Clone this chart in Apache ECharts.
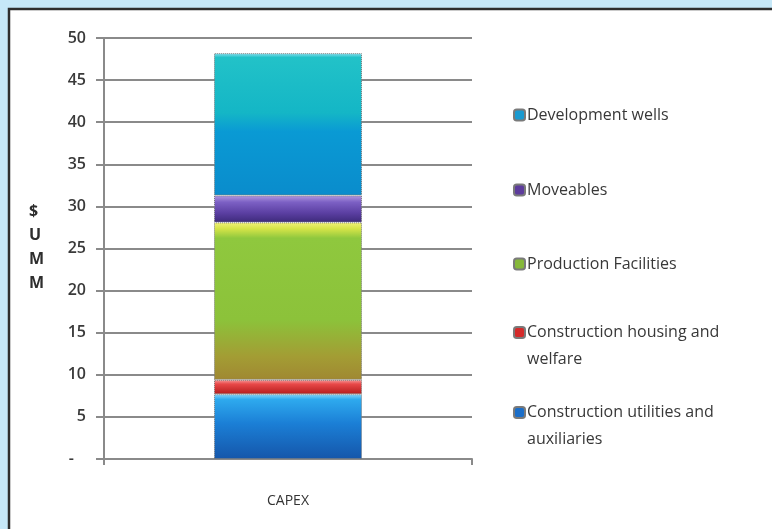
<!DOCTYPE html>
<html>
<head>
<meta charset="utf-8">
<script src="https://cdn.jsdelivr.net/npm/echarts@6/dist/echarts.min.js"></script>
<style>
  html, body { margin: 0; padding: 0; background: #c6e8f8; }
  #chart { width: 772px; height: 529px; }
</style>
</head>
<body>
<div id="chart"></div>
<script>
// CAPEX breakdown, stacked from the bottom up (US$ MM)
const categories = ['CAPEX'];
const seriesNames = [
  'Construction utilities and auxiliaries',
  'Construction housing and welfare',
  'Production Facilities',
  'Moveables',
  'Development wells'
];
const utilities = [7.7];
const housing = [1.7];
const production = [18.7];
const moveables = [3.2];
const wells = [16.9];
const yTicks = { min: 0, max: 50, interval: 5 };
const legendOrder = [
  'Development wells',
  'Moveables',
  'Production Facilities',
  'Construction housing and welfare',
  'Construction utilities and auxiliaries'
];
// wrapped entries start with a blank line so the centred swatch lines up with the first text line
const legendLabels = {
  'Development wells': 'Development wells',
  'Moveables': 'Moveables',
  'Production Facilities': 'Production Facilities',
  'Construction housing and welfare': ' \nConstruction housing and\nwelfare',
  'Construction utilities and auxiliaries': ' \nConstruction utilities and\nauxiliaries'
};

const FONT = '"Open Sans", "Noto Sans", sans-serif';

function vGrad(stops) {
  return new echarts.graphic.LinearGradient(0, 0, 0, 1,
    stops.map(s => ({ offset: s[0], color: s[1] })));
}

const fills = {
  'Construction utilities and auxiliaries': vGrad([[0, '#8ad6f8'], [0.08, '#2eaaee'], [0.45, '#1b7fd6'], [1, '#1556aa']]),
  'Construction housing and welfare': vGrad([[0, '#f59a9a'], [0.3, '#e84848'], [1, '#b41c1c']]),
  'Production Facilities': vGrad([[0, '#f2f27a'], [0.04, '#d6e448'], [0.1, '#8fc83e'], [0.62, '#8cc23a'], [0.85, '#a39d34'], [1, '#a08832']]),
  'Moveables': vGrad([[0, '#b29ae0'], [0.25, '#7c60c4'], [0.65, '#5b3fa2'], [1, '#3d2a7a']]),
  'Development wells': vGrad([[0, '#8fe0f0'], [0.03, '#22c2c8'], [0.42, '#14b6c6'], [0.55, '#0a9ad4'], [1, '#0a8ccc']])
};
const iconColors = {
  'Construction utilities and auxiliaries': '#1b6ec8',
  'Construction housing and welfare': '#d42a2a',
  'Production Facilities': '#86b83a',
  'Moveables': '#5d3c9c',
  'Development wells': '#1a9ad0'
};

const valuesByName = {
  'Construction utilities and auxiliaries': utilities,
  'Construction housing and welfare': housing,
  'Production Facilities': production,
  'Moveables': moveables,
  'Development wells': wells
};

const series = seriesNames.map(name => ({
  name: name,
  type: 'bar',
  stack: 'capex',
  barWidth: 148,
  data: valuesByName[name],
  itemStyle: {
    color: fills[name],
    borderColor: '#7a7a7a',
    borderType: 'dotted',
    borderWidth: 1
  },
  emphasis: { disabled: true }
}));

const LINE = 27;
const legendTops = [99, 174, 248, 287, 367];
const legends = legendOrder.map((name, i) => {
  const wrapped = legendLabels[name].indexOf('\n') >= 0;
  return {
    orient: 'vertical',
    left: 508,
    top: legendTops[i],
    data: [{ name: name, itemStyle: { color: iconColors[name] } }],
    icon: 'roundRect',
    itemWidth: 11,
    itemHeight: 11,
    itemGap: 0,
    selectedMode: false,
    formatter: n => legendLabels[n],
    textStyle: {
      fontFamily: FONT, fontSize: 16, color: '#383838',
      lineHeight: wrapped ? LINE : 22,
      padding: [0, 0, 0, -3]
    }
  };
});

const chart = echarts.init(document.getElementById('chart'), null, { renderer: 'canvas' });
chart.setOption({
  backgroundColor: '#c6e8f8',
  animation: false,
  graphic: [
    {
      type: 'rect',
      z: -10,
      shape: { x: 9, y: 9, width: 800, height: 600 },
      style: { fill: '#ffffff', stroke: '#2e2e2e', lineWidth: 2.5 }
    },
    {
      type: 'text',
      left: 29,
      top: 199,
      style: {
        text: '$\nU\nM\nM',
        fontFamily: FONT,
        fontSize: 16,
        fontWeight: 'bold',
        lineHeight: 24,
        fill: '#2e2e2e',
        align: 'center'
      }
    }
  ],
  grid: { left: 104, right: 300, top: 38, bottom: 70 },
  legend: legends,
  xAxis: {
    type: 'category',
    data: categories,
    axisLine: { lineStyle: { color: '#8a8a8a', width: 2 } },
    axisTick: { show: true, alignWithLabel: false, length: 6, lineStyle: { color: '#8a8a8a', width: 2 } },
    axisLabel: { margin: 35, fontFamily: FONT, fontSize: 14, color: '#333333' },
    splitLine: { show: false }
  },
  yAxis: {
    type: 'value',
    min: yTicks.min,
    max: yTicks.max,
    interval: yTicks.interval,
    axisLine: { show: true, lineStyle: { color: '#8a8a8a', width: 2 } },
    axisTick: { show: true, length: 8, lineStyle: { color: '#8a8a8a', width: 2 } },
    axisLabel: {
      margin: 18,
      fontFamily: FONT,
      fontSize: 16,
      fontWeight: 600,
      color: '#3a3a3a',
      formatter: v => (v === 0 ? '{d|-}' : String(v)),
      rich: { d: { fontFamily: FONT, fontSize: 16, fontWeight: 600, color: '#3a3a3a', padding: [0, 12, 0, 0] } }
    },
    splitLine: { show: true, lineStyle: { color: '#8a8a8a', width: 2 } }
  },
  series: series
});
</script>
</body>
</html>
